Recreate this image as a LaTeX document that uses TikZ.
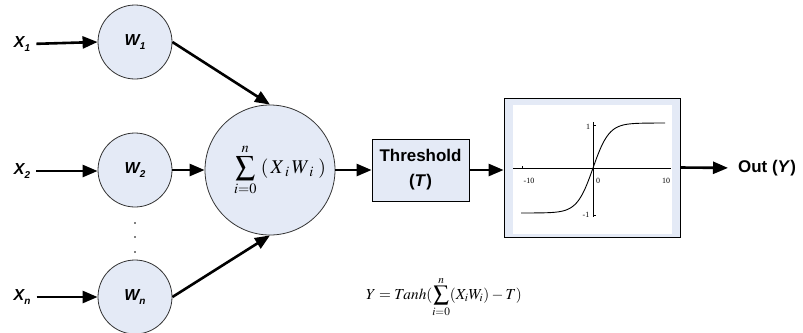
\documentclass[tikz,border=0pt]{standalone}
\usepackage{mathptmx}
\usepackage{fontspec}
\usepackage{graphicx}
\setmainfont{Liberation Sans}
\newfontfamily\seriffont{Liberation Serif}
\newfontfamily\bifont{Liberation Sans}[UprightFont={* Bold Italic}]
\usetikzlibrary{arrows.meta}
\definecolor{cellfill}{RGB}{228,234,246}
\newcommand{\lbl}[2]{{\bifont #1\raisebox{-0.3em}{\fontsize{10}{10}\selectfont #2}}}
\tikzset{
  weight/.style={circle,draw=black!80,line width=0.8bp,fill=cellfill,minimum size=74bp,inner sep=0pt,font=\fontsize{16}{18}\selectfont},
  inlbl/.style={font=\fontsize{16}{18}\selectfont,inner sep=0pt},
  link/.style={line width=2.6bp,-{Triangle[length=15bp,width=12bp]}},
  tiny/.style={font=\seriffont\fontsize{8}{8}\selectfont,inner sep=0pt},
}
\begin{document}
\begin{tikzpicture}[x=1bp,y=-1bp]
\useasboundingbox (0,0) rectangle (803,332);
% weight nodes
\node[weight] (w1) at (135,42) {\lbl{W}{1}};
\node[weight] (w2) at (135,170) {\lbl{W}{2}};
\node[weight] (wn) at (135,297) {\lbl{W}{n}};
% inputs
\node[inlbl] (x1) at (22,44) {\lbl{X}{1}};
\node[inlbl] (x2) at (22,171) {\lbl{X}{2}};
\node[inlbl] (xn) at (22,297) {\lbl{X}{n}};
% dots
\node[circle,fill=black,inner sep=0pt,minimum size=1.6bp] (d1) at (135,223) {};
\node[circle,fill=black,inner sep=0pt,minimum size=1.6bp] (d2) at (135,237) {};
\node[circle,fill=black,inner sep=0pt,minimum size=1.6bp] (d3) at (135,252) {};
% summation
\node[circle,draw=black!80,line width=0.8bp,fill=cellfill,minimum size=130bp,inner sep=0pt] (sum) at (270,170)
  {\hspace*{20bp}\fontsize{15}{18}\selectfont\scalebox{1.3}{$\displaystyle\sum_{i=0}^{n}\;(\,X_{\;i}\,W_{\;i}\;)$}};
% threshold
\node[draw=black,line width=0.8bp,fill=cellfill,minimum width=97bp,minimum height=62bp,inner sep=0pt,align=center,
  font=\fontsize{17}{25}\selectfont\bfseries] (thr) at (420.5,170) {Threshold\\(\textit{T})};
% graph box
\node[draw=black,line width=0.8bp,fill=cellfill,minimum width=176bp,minimum height=139bp,inner sep=0pt] (graph) at (592,167.5) {};
\fill[white] (513,105) rectangle (672,234);
\draw[line width=1bp] (513,168) -- (671,168);
\draw[line width=0.6bp] (522,166) -- (522,168);
\draw[line width=0.6bp] (593,122) -- (593,217);
\draw[line width=0.6bp] (593,125) -- (596,125);
\draw[line width=0.6bp] (593,215) -- (596,215);
\draw[line width=0.9bp] plot[domain=-10:10,samples=100] ({593+7.2*\x},{168-45*tanh(0.45*\x)});
\node[tiny] (t1) at (588,127) {1};
\node[tiny] (tm1) at (586,215) {-1};
\node[tiny] (tm10) at (529,181) {-10};
\node[tiny] (t0) at (598,181) {0};
\node[tiny] (t10) at (666,181) {10};
% output
\node[inner sep=0pt,anchor=west,font=\fontsize{17}{20}\selectfont\bfseries] (out) at (738,168) {Out (\textit{Y})};
% formula
\node[inner sep=0pt] (formula) at (444,297) {\fontsize{13}{15}\selectfont\scalebox{1.18}{$\displaystyle Y = Tanh(\sum_{i=0}^{n}(X_iW_i) - T)$}};
% connectors
\draw[link,shorten <=6bp] (x1.east) -- (w1.west);
\draw[link,shorten <=6bp] (x2.east) -- (w2.west |- x2.east);
\draw[link,shorten <=6bp] (xn.east) -- (wn.west);
\draw[link] (w1.east) -- (sum.north);
\draw[link] (w2.east) -- (sum.west);
\draw[link] (wn.east) -- (sum.south);
\draw[link] (sum.east) -- (thr.west);
\draw[link] (thr.east) -- (thr.east -| graph.west);
\draw[link,shorten >=10bp] (graph.east) -- (out.west);
\end{tikzpicture}
\end{document}
